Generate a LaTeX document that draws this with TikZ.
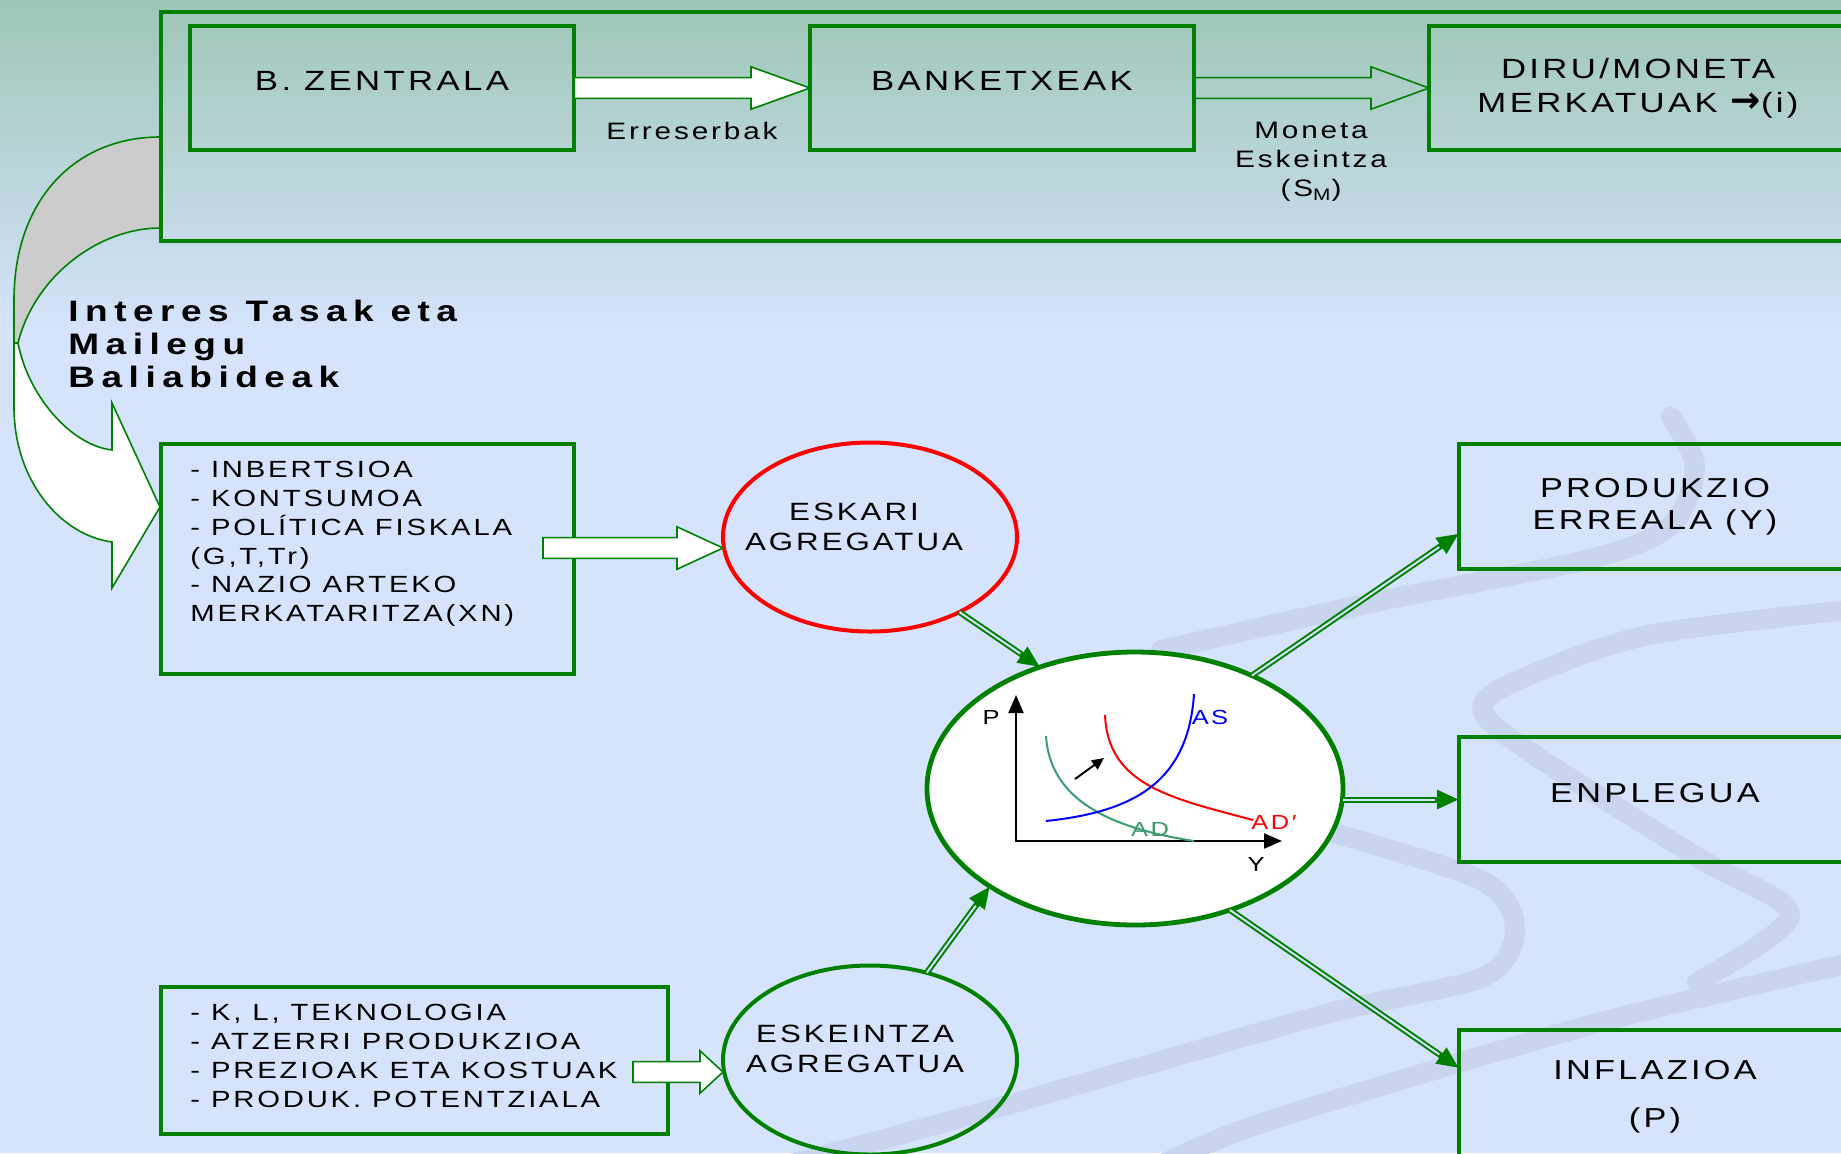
\documentclass[tikz,border=0pt]{standalone}
\usepackage{fontspec}
\setmainfont{Liberation Sans}
\newfontfamily\slidefont{Liberation Sans}[FakeStretch=1.25,LetterSpace=12]
\newfontfamily\slidebold{Liberation Sans Bold}[FakeStretch=1.25,LetterSpace=22]
\newfontfamily\symbfont{DejaVu Sans}
\usetikzlibrary{positioning,shapes.geometric,arrows.meta,calc}
\definecolor{boxgreen}{HTML}{008000}
\definecolor{bgtop}{HTML}{9EC6B6}
\definecolor{bgblue}{HTML}{D5E3FC}
\definecolor{swooshgray}{HTML}{C9D5EF}
\definecolor{adgreen}{HTML}{3C9C70}

% hollow block arrow: [style]{tail}{tip}{head length}
\newcommand{\blockarrow}[4][fill=white]{%
  \draw[blockline,#1] let \p1=(#2), \p2=(#3) in
    (\x1,{\y1+5.2pt}) -- ({\x2-#4},{\y1+5.2pt}) -- ({\x2-#4},{\y1+10.6pt}) -- (\x2,\y1)
    -- ({\x2-#4},{\y1-10.6pt}) -- ({\x2-#4},{\y1-5.2pt}) -- (\x1,{\y1-5.2pt}) -- cycle;}

\begin{document}
\begin{tikzpicture}[
  x=0.5pt, y=-0.5pt,
  font=\slidefont,
  framebox/.style={rectangle, draw=boxgreen, line width=1.8pt, inner sep=0pt, outer sep=0pt},
  topbox/.style={rectangle, draw=boxgreen, line width=2.2pt, minimum width=192pt, minimum height=62pt,
            inner sep=0pt, outer sep=0pt, font=\slidefont\fontsize{13.9}{17}\selectfont},
  listbox/.style={rectangle, draw=boxgreen, line width=2.2pt, inner sep=0pt, outer sep=0pt},
  listtext/.style={anchor=north west, align=left, inner sep=0pt, font=\slidefont\fontsize{11.7}{14.4}\selectfont},
  outbox/.style={rectangle, draw=boxgreen, line width=2.2pt, minimum width=196pt, minimum height=62.5pt,
            inner sep=0pt, outer sep=0pt, align=center, font=\slidefont\fontsize{13.7}{16}\selectfont},
  aggnode/.style={ellipse, line width=2pt, minimum width=147pt, minimum height=94.5pt, inner sep=0pt, outer sep=0pt},
  aggtext/.style={align=center, inner sep=0pt, font=\slidefont\fontsize{12.5}{15}\selectfont},
  smalltext/.style={align=center, inner sep=0pt, font=\slidefont\fontsize{11.9}{14.5}\selectfont},
  boldtext/.style={anchor=north west, align=left, inner sep=0pt, font=\slidebold\fontsize{14.8}{16.5}\selectfont},
  graphlbl/.style={inner sep=0pt, font=\slidefont\fontsize{10.2}{11}\selectfont},
  blockline/.style={draw=boxgreen, line width=0.8pt},
  dblarrow/.style={draw=boxgreen, line width=3pt, -{Triangle[length=11pt,width=9pt]},
            postaction={draw=bgblue, line width=1pt, shorten >=12pt, -}},
  axis/.style={line width=1pt, {Triangle[length=9pt,width=7.5pt]}-{Triangle[length=9pt,width=7.5pt]}},
  curve/.style={line width=1pt},
  swoosh/.style={draw=swooshgray, line width=10pt, line cap=round}
]
  \useasboundingbox (0,0) rectangle (1841,1153);
  % background
  \shade[top color=bgtop, bottom color=bgblue] (0,0) rectangle (1841,330);
  \fill[bgblue] (0,329) rectangle (1841,1153);
  \draw[swoosh] plot[smooth] coordinates {(1671,417) (1695,467) (1671,525) (1590,559) (1375,602) (1161,650)};
  \draw[swoosh] plot[smooth] coordinates {(1841,611) (1644,636) (1510,684) (1483,712) (1536,756) (1697,857) (1790,915) (1697,982)};
  \draw[swoosh] plot[smooth] coordinates {(1333,833) (1483,881) (1515,929) (1483,977) (1322,1015) (1000,1107) (788,1165)};
  \draw[swoosh] plot[smooth] coordinates {(1841,965) (1590,1025) (1268,1121) (1161,1165)};

  % curved arrow on the left
  \draw[blockline, fill=black!20] (160,137) .. controls (75,137) and (14,200) .. (14,300) -- (14,343)
    -- (18,343) .. controls (35,275) and (100,228) .. (160,228) -- cycle;
  \draw[blockline, fill=white] (14,343) -- (14,407) .. controls (14,480) and (60,535) .. (112,542)
    -- (112,588) -- (160,507) -- (112,403) -- (112,450) .. controls (70,445) and (28,395) .. (18,343) -- cycle;
  \node[boldtext] (rates) at (68,300) {Interes Tasak eta\\Mailegu\\Baliabideak};

  % top row
  \node[framebox, minimum width=844.5pt, minimum height=114.5pt, anchor=north west] (bankframe) at (161,12) {};
  \node[topbox, text depth=7pt] (zent) at (382,88) {B. ZENTRALA};
  \node[topbox, text depth=7pt, right=118pt of zent] (bank) {BANKETXEAK};
  \node[topbox, align=center, minimum width=209pt, right=117.5pt of bank] (diru)
    {DIRU/MONETA\\MERKATUAK {\symbfont\bfseries\fontsize{18}{17}\selectfont→}(i)};
  \blockarrow{zent.east}{bank.west}{29.5pt}
  \blockarrow[fill=none]{bank.east}{diru.west}{29pt}
  \node[smalltext] (resv) at (692,131) {Erreserbak};
  \node[smalltext] (msup) at (1311,162) {Moneta\\Eskeintza\\(S\textsubscript{M})};

  % demand side
  \node[listbox, minimum width=206.5pt, minimum height=115pt] (dem) at (367.5,559) {};
  \node[listtext] (demtxt) at (190,461) {- INBERTSIOA\\- KONTSUMOA\\- POLÍTICA FISKALA\\(G,T,Tr)\\- NAZIO ARTEKO\\MERKATARITZA(XN)};
  \node[aggnode, draw=red] (ad) at (870,537) {};
  \node[aggtext] (adtxt) at (854,527) {ESKARI\\AGREGATUA};
  \blockarrow{[xshift=-15.5pt,yshift=5.5pt]dem.east}{ad.west}{23pt}

  % supply side
  \node[listbox, minimum width=253.5pt, minimum height=73.5pt] (sup) at (414.5,1060.5) {};
  \node[listtext] (suptxt) at (190,1004) {- K, L, TEKNOLOGIA\\- ATZERRI PRODUKZIOA\\- PREZIOAK ETA KOSTUAK\\- PRODUK. POTENTZIALA};
  \node[aggnode, draw=boxgreen] (as) at (870,1060) {};
  \node[aggtext] (astxt) at (855,1049) {ESKEINTZA\\AGREGATUA};
  \blockarrow{[xshift=-17.5pt,yshift=-5.75pt]sup.east}{as.west}{11.5pt}

  % market with AD-AS graph
  \node[aggnode, draw=boxgreen, fill=white, line width=2.4pt, minimum width=208pt, minimum height=136.5pt] (market) at (1135,788.5) {};
  \coordinate (orig) at (1016,841);
  \coordinate (ptip) at (1016,695);
  \coordinate (ytip) at (1282,841);
  \draw[axis] (ptip) -- (orig) -- (ytip);
  \node[graphlbl] (plbl) at (991,717) {P};
  \node[graphlbl] (ylbl) at (1256,864) {Y};
  \draw[curve, adgreen] (1046,736) .. controls (1050,800) and (1110,828) .. (1194,841);
  \draw[curve, red] (1105,715) .. controls (1108,785) and (1170,798) .. (1253,820);
  \draw[curve, blue] (1046,821) .. controls (1130,812) and (1188,785) .. (1194,694);
  \node[graphlbl, adgreen] (adlbl) at (1150,829) {AD};
  \node[graphlbl, red] (ad2lbl) at (1274,822) {AD′};
  \node[graphlbl, blue] (aslbl) at (1210,717) {AS};
  \coordinate (shfrom) at (1075,779);
  \coordinate (shto) at (1104,758);
  \draw[line width=1pt, -{Triangle[length=6pt,width=5.5pt]}] (shfrom) -- (shto);

  % results
  \node[outbox] (prod) at (1655,506.5) {PRODUKZIO\\ERREALA (Y)};
  \node[outbox, text depth=6.5pt, below=84pt of prod] (enp) {ENPLEGUA};
  \node[outbox, minimum height=64pt, text depth=0pt, below=84pt of enp,
        font=\slidefont\fontsize{13.7}{24}\selectfont] (infl) {INFLAZIOA\\(P)};

  \draw[dblarrow] (ad.-40) -- (market.128);
  \draw[dblarrow] (as.57) -- (market.214);
  \draw[dblarrow] (market.44) -- ([yshift=-13.5pt]prod.west);
  \draw[dblarrow] (market.east |- enp.west) -- (enp.west);
  \draw[dblarrow] (market.-52) -- ([yshift=-19pt]infl.north west);
\end{tikzpicture}
\end{document}
